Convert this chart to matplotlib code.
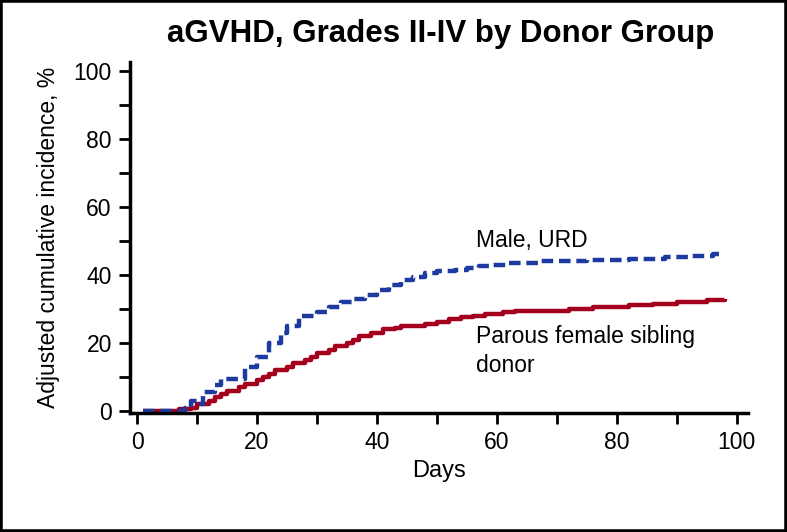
import matplotlib
matplotlib.use("Agg")
import matplotlib.pyplot as plt
from matplotlib.patches import Rectangle
from matplotlib.ticker import MultipleLocator

# Data (step curves)
male_days = [1, 8, 9, 10, 11, 13, 14, 18, 20, 22, 24, 25, 27, 30, 32, 34, 36, 38, 40, 42, 44, 46, 48, 50, 53, 55, 57, 59, 62, 67, 75, 82, 88, 92, 96, 97]
male_vals = [0, 1, 3, 2, 5.5, 7.5, 9.5, 13, 16, 20, 23, 25, 28, 29, 30.5, 32, 33, 34, 35.5, 37, 38.5, 39.5, 40.5, 41, 41.5, 42, 42.5, 43, 43.5, 44, 44.3, 44.8, 45.2, 45.6, 46.2, 46.2]

fem_days = [1, 7, 9, 10, 12, 13, 14, 15, 17, 18, 20, 21, 22, 23, 25, 26, 28, 29, 30, 32, 33, 35, 36, 37, 39, 41, 43, 44, 48, 50, 52, 54, 56, 58, 61, 63, 70, 72, 76, 82, 86, 90, 95, 98]
fem_vals = [0, 0.5, 1, 2, 3, 4, 5, 6, 7, 8, 9, 10, 11, 12, 13, 14, 15, 16, 17, 18, 19, 20, 21, 22, 23, 24, 24.5, 25, 25.5, 26, 27, 27.5, 28, 28.5, 29, 29.5, 29.5, 30, 30.5, 31, 31.5, 32, 32.5, 33]

x_ticks = [0, 20, 40, 60, 80, 100]
y_ticks = [0, 20, 40, 60, 80, 100]

plt.rcParams['font.family'] = ['Liberation Sans', 'DejaVu Sans']

fig = plt.figure(figsize=(7.87, 5.32), dpi=100)
ax = fig.add_axes([0.165, 0.2237, 0.785, 0.66])

blue = '#1c3aa0'
red = '#a3001e'

ax.step(fem_days, fem_vals, where='post', color=red, lw=3.2, solid_capstyle='butt')
ax.step(male_days, male_vals, where='post', color=blue, lw=3.2, linestyle=(0, (2.6, 1.3)))

ax.set_xlim(-1.2, 101.8)
ax.set_ylim(-0.6, 102.6)
ax.set_xticks(x_ticks)
ax.set_yticks(y_ticks)
ax.xaxis.set_minor_locator(MultipleLocator(10))
ax.yaxis.set_minor_locator(MultipleLocator(10))
ax.tick_params(which='both', direction='out', length=8, width=2, labelsize=16.5, pad=5)
for s in ['top', 'right']:
    ax.spines[s].set_visible(False)
for s in ['left', 'bottom']:
    ax.spines[s].set_linewidth(2.5)

ax.set_xlabel('Days', fontsize=17, labelpad=4)
ax.set_ylabel('Adjusted cumulative incidence, %', fontsize=16.5, labelpad=10)

ax.text(56.5, 50, 'Male, URD', fontsize=16.5, va='center', ha='left')
ax.text(56.5, 17.6, 'Parous female sibling\ndonor', fontsize=16.5,
        va='center', ha='left', linespacing=1.3)

fig.text(0.56, 0.937, 'aGVHD, Grades II-IV by Donor Group', fontsize=22.5, fontweight='bold',
         ha='center', va='center')

fig.patches.append(Rectangle((0, 0), 1, 1, transform=fig.transFigure, fill=False,
                             edgecolor='black', lw=4, zorder=10))

fig.savefig('out.png', dpi=100)
